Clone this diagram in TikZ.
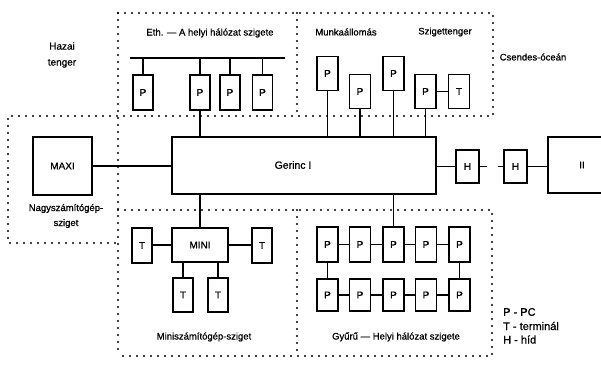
\documentclass[tikz,border=0pt]{standalone}
\usepackage{fontspec}
\setmainfont[FakeBold=0.8]{Liberation Sans}
\begin{document}
\begin{tikzpicture}[x=1pt,y=-1pt,
  bx/.style={draw, line width=1.5pt, inner sep=0pt, font=\fontsize{10}{12}\selectfont},
  pbox/.style={bx, minimum width=21pt, minimum height=34pt},
  hbox/.style={bx, minimum width=23pt, minimum height=33pt},
  conn/.style={line width=1.4pt},
  dotln/.style={line width=2.2pt, line cap=round, dash pattern=on 0pt off 7pt},
  lbl/.style={font=\fontsize{9.5}{16}\selectfont, inner sep=0pt, align=center},
  sm/.style={lbl, font=\fontsize{9.5}{11}\selectfont},
  leg/.style={font=\fontsize{11}{13.5}\selectfont, inner sep=0pt, anchor=west}]
\useasboundingbox (0,0) rectangle (601,364);

% dotted island borders
\draw[dotln] (118,13) -- (493,13) -- (493,116) -- (8,116) -- (8,243) -- (118,243);
\draw[dotln] (297,13) -- (297,116);
\draw[dotln] (118,13) -- (118,356);
\draw[dotln] (118,210) -- (492,210) -- (492,356) -- (118,356);
\draw[dotln] (297,210) -- (297,356);

% backbone and big machines
\node[bx, minimum width=264pt, minimum height=57pt] (ger) at (304,165.5) {};
\node[lbl, font=\fontsize{10.5}{12}\selectfont] (gerl) at (293,165) {Gerinc I};
\node[bx, minimum width=59pt, minimum height=58pt] (maxi) at (62.5,166) {MAXI};
\node[hbox] (h1) at (467.5,166.5) {H};
\node[hbox] (h2) at (515.5,166.5) {H};
\node[bx, minimum width=68pt, minimum height=56pt] (ii) at (582,165) {II};

\draw[conn] (maxi.east) -- (maxi.east -| ger.west);
\draw[conn] (ger.east |- h1.west) -- (h1.west);
\draw[conn, dash pattern=on 7pt off 11pt on 7pt] (h1.east) -- (h2.west);
\draw[conn] (h2.east) -- (h2.east -| ii.west);

% Ethernet island
\coordinate (busL) at (130,58);
\coordinate (busR) at (285,58);
\draw[conn] (busL) -- (busR);
\node[pbox, minimum width=20pt, minimum height=35pt] (e1) at (143,92.5) {P};
\node[pbox, minimum width=20pt, minimum height=35pt] (e2) at (200,92.5) {P};
\node[pbox, minimum width=20pt, minimum height=35pt] (e3) at (230,92.5) {P};
\node[pbox, minimum width=20pt, minimum height=35pt] (e4) at (262.5,92.5) {P};
\foreach \n in {e1,e2,e3,e4} \draw[conn] (\n.north) -- (\n.north |- busL);
\draw[conn] (e2.south) -- (e2.south |- ger.north);

% workstations
\node[pbox] (m1) at (327.5,73.5) {P};
\node[pbox] (m2) at (360,91.5) {P};
\node[pbox] (m3) at (393.5,73.5) {P};
\node[pbox] (m4) at (425.5,91.5) {P};
\node[pbox] (mt) at (459,91.5) {T};
\draw[conn] (m4.east) -- (mt.west);
\foreach \n in {m1,m2,m3,m4} \draw[conn] (\n.south) -- (\n.south |- ger.north);

% mini island
\node[bx, minimum width=56pt, minimum height=34pt] (mini) at (200,245) {MINI};
\node[pbox, minimum width=20pt, minimum height=35pt] (tl) at (142,245.5) {T};
\node[pbox, minimum width=20pt, minimum height=35pt] (tr) at (262,245.5) {T};
\node[pbox, minimum width=20pt] (tb1) at (183,295) {T};
\node[pbox, minimum width=20pt] (tb2) at (218,295) {T};
\draw[conn] (ger.south -| mini.north) -- (mini.north);
\draw[conn] (tl.east |- mini.west) -- (mini.west);
\draw[conn] (mini.east) -- (mini.east -| tr.west);
\draw[conn] (tb1.north) -- (tb1.north |- mini.south);
\draw[conn] (tb2.north) -- (tb2.north |- mini.south);

% ring island
\foreach \i/\x in {1/327.5,2/360,3/393.5,4/426,5/459.5} {
  \node[pbox, minimum height=35pt] (ra\i) at (\x,244.5) {P};
  \node[pbox, minimum height=32pt] (rb\i) at (\x,295) {P};
}
\foreach \i/\j in {1/2,2/3,3/4,4/5} {
  \draw[conn] (ra\i.east) -- (ra\j.west);
  \draw[conn] (rb\i.east) -- (rb\j.west);
}
\draw[conn] (ra1.south) -- (rb1.north);
\draw[conn] (ra5.south) -- (rb5.north);
\draw[conn] (ger.south -| ra3.north) -- (ra3.north);

% labels
\node[lbl, font=\fontsize{10}{16}\selectfont] (hazai) at (62,55) {Hazai\\tenger};
\node[sm] (ethl) at (210,33) {Eth. — A helyi hálózat szigete};
\node[sm] (munka) at (346,32) {Munkaállomás};
\node[sm] (szt) at (445,32) {Szigettenger};
\node[lbl] (csend) at (533,57) {Csendes-óceán};
\node[lbl, font=\fontsize{9.5}{15}\selectfont] (nagy) at (66,216) {Nagyszámítógép-\\sziget};
\node[sm] (minil) at (204,337) {Miniszámítógép-sziget};
\node[sm] (gyuru) at (396,337) {Gyűrű — Helyi hálózat szigete};

% legend
\node[leg] (lp) at (503,312) {P - PC};
\node[leg] (lt) at (503,326) {T - terminál};
\node[leg] (lh) at (503,339.5) {H - híd};
\end{tikzpicture}
\end{document}
